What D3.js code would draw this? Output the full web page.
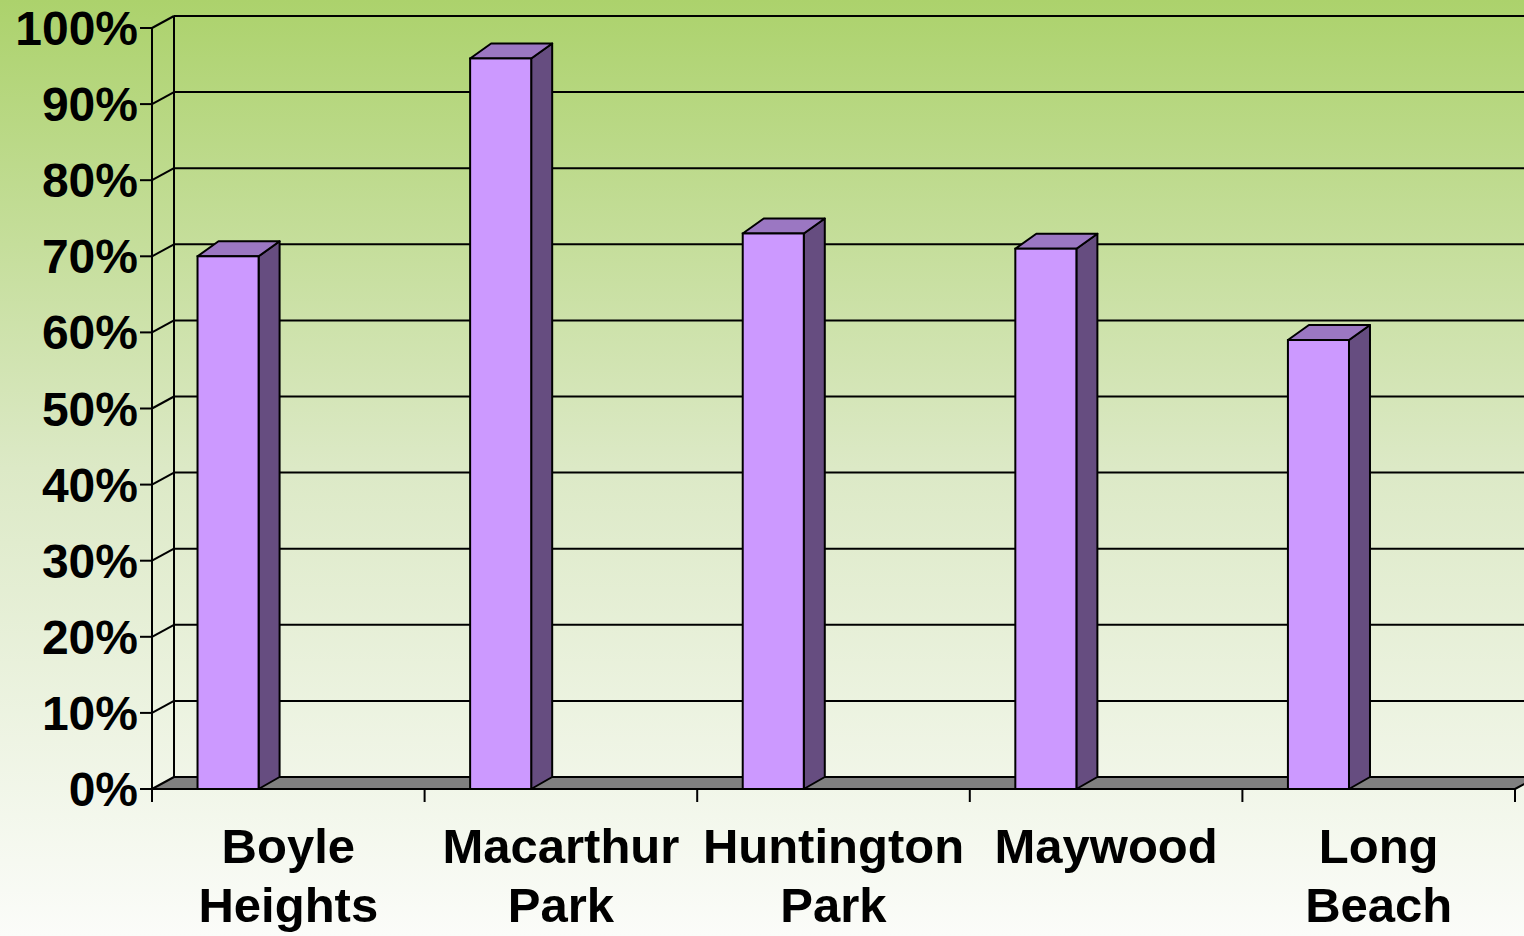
<!DOCTYPE html>
<html>
<head>
<meta charset="utf-8">
<script src="https://cdn.jsdelivr.net/npm/d3@7"></script>
<style>
  html, body { margin: 0; padding: 0; overflow: hidden; }
  svg { display: block; font-family: "Liberation Sans", Arial, sans-serif; }
</style>
</head>
<body>
<script>
var width = 1524, height = 936;

// data
var categories = ["Boyle Heights", "Macarthur Park", "Huntington Park", "Maywood", "Long Beach"];
var labelLines = [["Boyle", "Heights"], ["Macarthur", "Park"], ["Huntington", "Park"], ["Maywood"], ["Long", "Beach"]];
var values = [0.70, 0.96, 0.73, 0.71, 0.59];
var yTicks = [0, 0.1, 0.2, 0.3, 0.4, 0.5, 0.6, 0.7, 0.8, 0.9, 1];

var svg = d3.select("body").append("svg")
    .attr("width", width)
    .attr("height", height);

// background gradient
var defs = svg.append("defs");
var grad = defs.append("linearGradient").attr("id", "bg")
    .attr("x1", 0).attr("y1", 0).attr("x2", 0).attr("y2", 1);
grad.append("stop").attr("offset", "0%").attr("stop-color", "#acd26c");
grad.append("stop").attr("offset", "50%").attr("stop-color", "#dce9c6");
grad.append("stop").attr("offset", "100%").attr("stop-color", "#fbfcf9");
svg.append("rect").attr("width", width).attr("height", height).attr("fill", "url(#bg)");

// 3d offsets (wall depth)
var dX = 22, dY = -12;
// bar depth
var bX = 21, bY = -15;

var x = d3.scaleBand().domain(categories).range([152, 1515]);
var y = d3.scaleLinear().domain([0, 1]).range([789, 28]);

var g = svg.append("g");

// back wall gridlines
g.selectAll(".grid").data(yTicks.slice(1)).enter().append("line")
    .attr("x1", 152 + dX).attr("x2", width + 20)
    .attr("y1", function (d) { return y(d) + dY; })
    .attr("y2", function (d) { return y(d) + dY; })
    .attr("stroke", "#000").attr("stroke-width", 2);

// back wall left edge
g.append("line")
    .attr("x1", 152 + dX).attr("x2", 152 + dX)
    .attr("y1", y(1) + dY).attr("y2", y(0) + dY)
    .attr("stroke", "#000").attr("stroke-width", 2);

// side wall diagonals
g.selectAll(".diag").data(yTicks.slice(1)).enter().append("line")
    .attr("x1", 152).attr("x2", 152 + dX)
    .attr("y1", function (d) { return y(d); })
    .attr("y2", function (d) { return y(d) + dY; })
    .attr("stroke", "#000").attr("stroke-width", 2);

// floor
var x0 = x.range()[0], x1 = x.range()[1];
g.append("polygon")
    .attr("points", [[x0, y(0)], [x0 + dX, y(0) + dY], [x1 + dX, y(0) + dY], [x1, y(0)]].join(" "))
    .attr("fill", "#808080").attr("stroke", "#000").attr("stroke-width", 2)
    .attr("stroke-linejoin", "round");

// front left axis
g.append("line")
    .attr("x1", 152).attr("x2", 152)
    .attr("y1", y(1)).attr("y2", y(0) + 13)
    .attr("stroke", "#000").attr("stroke-width", 2);

// y ticks + labels
g.selectAll(".ytick").data(yTicks).enter().append("line")
    .attr("x1", 140).attr("x2", 152)
    .attr("y1", function (d) { return y(d); })
    .attr("y2", function (d) { return y(d); })
    .attr("stroke", "#000").attr("stroke-width", 2);

g.selectAll(".ylabel").data(yTicks).enter().append("text")
    .attr("x", 138)
    .attr("y", function (d) { return y(d) + 17; })
    .attr("text-anchor", "end")
    .attr("font-size", 48).attr("font-weight", "bold")
    .attr("fill", "#000")
    .text(function (d) { return d3.format(".0%")(d); });

// category ticks
var tickXs = categories.map(function (c) { return x(c); }).concat([x1]);
g.selectAll(".xtick").data(tickXs).enter().append("line")
    .attr("x1", function (d) { return d; }).attr("x2", function (d) { return d; })
    .attr("y1", y(0)).attr("y2", y(0) + 13)
    .attr("stroke", "#000").attr("stroke-width", 2);

// bars
var bw = x.bandwidth() * 0.224;
var boff = x.bandwidth() * 0.167;
var bars = g.selectAll(".bar").data(categories).enter().append("g");

bars.append("polygon") // side
    .attr("points", function (c, i) {
        var r = x(c) + boff + bw, t = y(values[i]);
        return [[r, t], [r + bX, t + bY], [r + bX, y(0) + dY], [r, y(0)]].join(" ");
    })
    .attr("fill", "#664d80").attr("stroke", "#000").attr("stroke-width", 2)
    .attr("stroke-linejoin", "round");

bars.append("polygon") // top
    .attr("points", function (c, i) {
        var l = x(c) + boff, r = l + bw, t = y(values[i]);
        return [[l, t], [l + bX, t + bY], [r + bX, t + bY], [r, t]].join(" ");
    })
    .attr("fill", "#9b77c2").attr("stroke", "#000").attr("stroke-width", 2)
    .attr("stroke-linejoin", "round");

bars.append("rect") // front
    .attr("x", function (c) { return x(c) + boff; })
    .attr("y", function (c, i) { return y(values[i]); })
    .attr("width", bw)
    .attr("height", function (c, i) { return y(0) - y(values[i]); })
    .attr("fill", "#cc99ff").attr("stroke", "#000").attr("stroke-width", 2);

// category labels
var labels = g.selectAll(".xlabel").data(categories).enter().append("text")
    .attr("x", function (c) { return x(c) + x.bandwidth() / 2; })
    .attr("y", 863)
    .attr("text-anchor", "middle")
    .attr("font-size", 49).attr("font-weight", "bold")
    .attr("fill", "#000");

labels.selectAll("tspan").data(function (c, i) { return labelLines[i]; }).enter().append("tspan")
    .attr("x", function () { return d3.select(this.parentNode).attr("x"); })
    .attr("dy", function (d, i) { return i === 0 ? 0 : 59; })
    .text(function (d) { return d; });
</script>
</body>
</html>
